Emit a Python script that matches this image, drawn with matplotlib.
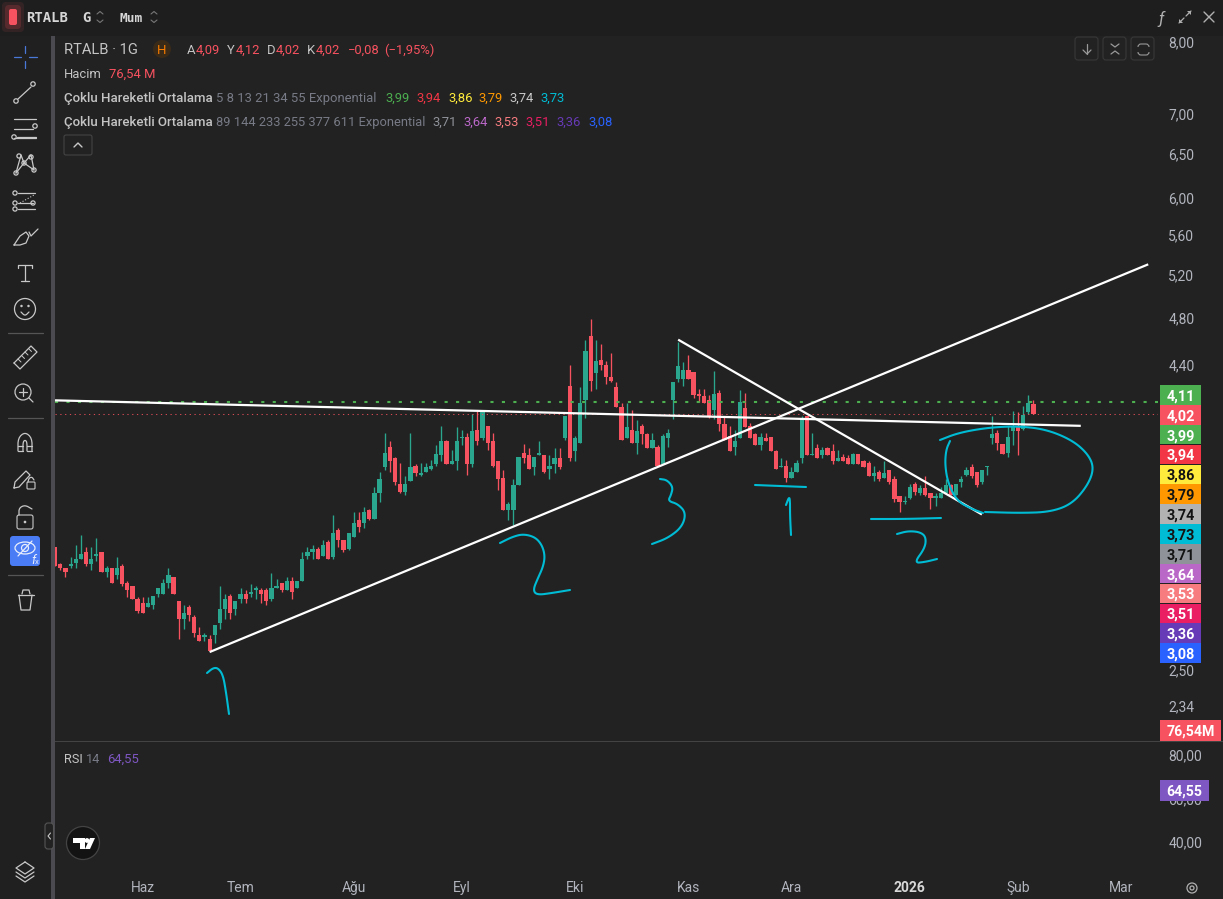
import numpy as np
import matplotlib
matplotlib.use("Agg")
import matplotlib.pyplot as plt
from matplotlib.patches import Rectangle, FancyBboxPatch, Circle, Polygon, Ellipse
from matplotlib.ticker import FixedLocator, FuncFormatter, NullLocator

plt.rcParams['font.family'] = ['Roboto', 'DejaVu Sans']

# ---- daily candles ----
opens = [3.14,3.04,3.02,3.03,3.05,3.07,3.11,3.04,3.09,3.11,3.00,3.02,2.98,3.03,2.94,2.92,2.85,2.83,2.81,2.82,2.88,2.88,2.94,2.97,2.84,2.75,2.81,2.76,2.67,2.66,2.65,2.67,2.73,2.80,2.87,2.80,2.85,2.88,2.88,2.90,2.90,2.90,2.85,2.91,2.94,2.90,2.95,2.91,2.95,3.09,3.11,3.13,3.09,3.17,3.08,3.24,3.18,3.13,3.20,
         3.30,3.28,3.36,3.31,3.47,3.64,3.78,3.70,3.53,3.48,3.55,3.65,3.59,3.61,3.63,3.66,3.72,3.82,3.66,3.68,3.84,3.85,3.66,3.90,3.84,3.93,3.82,3.68,3.57,3.36,3.36,3.52,3.74,3.72,3.64,3.72,3.72,3.63,3.66,3.70,3.84,
         4.23,3.75,3.81,4.12,4.64,4.33,4.44,4.40,4.30,4.22,4.07,3.84,3.90,3.81,3.93,3.87,3.77,3.78,3.66,3.84,4.12,4.29,4.29,4.36,4.34,4.17,4.15,4.12,4.05,4.18,3.94,3.86,3.78,3.84,4.06,3.93,3.87,3.79,3.84,3.85,3.75,3.64,3.65,3.57,3.61,3.70,4.00,3.72,
         3.77,3.72,3.77,3.75,3.68,3.71,3.70,3.66,3.73,3.68,3.67,3.58,3.61,3.57,3.62,3.56,3.45,3.41,3.44,3.53,3.47,3.50,3.47,3.44,3.44,3.47,3.52,3.46,3.54,3.59,3.64,3.61,3.54,3.64,3.84,3.88,3.80,3.74,3.89,3.92,3.91,4.03,4.09]
highs = [3.14,3.05,3.02,3.08,3.15,3.21,3.14,3.14,3.19,3.11,3.03,3.02,3.08,3.04,2.95,2.92,2.86,2.86,2.86,2.87,2.91,2.96,3.02,2.97,2.84,2.82,2.82,2.77,2.71,2.68,2.67,2.72,2.92,2.88,2.88,2.84,2.91,2.90,2.93,2.92,2.91,2.91,2.99,2.96,2.94,2.97,2.97,2.95,3.11,3.14,3.15,3.14,3.18,3.18,3.33,3.25,3.18,3.22,3.35,
         3.35,3.38,3.37,3.51,3.61,3.88,3.82,3.71,3.67,3.58,3.88,3.66,3.67,3.67,3.69,3.79,3.93,3.83,3.76,3.92,3.90,3.88,4.02,4.04,4.03,3.93,3.88,3.68,3.62,3.41,3.56,3.71,3.80,3.77,3.71,3.82,3.72,3.72,3.77,3.77,4.00,
         4.40,3.86,4.22,4.61,4.79,4.61,4.57,4.43,4.50,4.26,4.10,4.10,4.05,3.97,3.94,3.88,3.88,3.79,3.87,3.91,4.26,4.59,4.42,4.48,4.34,4.21,4.21,4.16,4.35,4.20,4.00,3.93,3.90,4.20,4.18,3.95,3.88,3.88,3.88,3.85,3.76,3.70,3.69,3.64,3.69,4.00,4.00,3.88,
         3.80,3.78,3.78,3.80,3.76,3.73,3.72,3.74,3.73,3.69,3.68,3.65,3.62,3.68,3.62,3.58,3.45,3.45,3.53,3.54,3.52,3.58,3.47,3.47,3.51,3.56,3.53,3.53,3.58,3.64,3.66,3.61,3.62,3.65,4.00,3.90,3.80,3.93,4.04,4.03,4.08,4.16,4.12]
lows = [3.03,3.01,2.97,3.02,3.02,3.07,3.03,3.01,3.06,3.00,2.97,2.94,2.96,2.92,2.86,2.85,2.78,2.78,2.81,2.80,2.86,2.88,2.91,2.88,2.65,2.70,2.74,2.66,2.64,2.64,2.59,2.63,2.70,2.75,2.75,2.77,2.83,2.83,2.86,2.85,2.83,2.82,2.84,2.91,2.89,2.90,2.85,2.91,2.95,3.07,3.07,3.07,3.09,3.07,3.07,3.14,3.11,3.12,3.20,
        3.23,3.25,3.30,3.31,3.41,3.62,3.61,3.52,3.47,3.46,3.55,3.58,3.58,3.61,3.62,3.65,3.68,3.66,3.66,3.62,3.79,3.59,3.64,3.79,3.83,3.76,3.64,3.49,3.36,3.30,3.27,3.52,3.67,3.63,3.59,3.72,3.60,3.56,3.60,3.63,3.83,
        3.68,3.68,3.81,3.99,4.19,4.21,4.36,4.25,4.26,4.07,3.83,3.84,3.81,3.73,3.80,3.77,3.77,3.65,3.66,3.78,3.98,4.26,4.23,4.29,4.14,4.11,4.10,3.99,3.98,3.89,3.83,3.75,3.72,3.84,3.92,3.84,3.79,3.76,3.82,3.75,3.63,3.64,3.54,3.57,3.61,3.67,3.72,3.72,
        3.70,3.70,3.72,3.66,3.68,3.68,3.66,3.66,3.66,3.64,3.58,3.55,3.55,3.57,3.53,3.41,3.35,3.40,3.43,3.46,3.46,3.45,3.37,3.39,3.44,3.47,3.46,3.46,3.51,3.58,3.57,3.51,3.53,3.59,3.80,3.76,3.73,3.71,3.79,3.72,3.90,4.02,4.02]
closes = [3.03,3.02,3.00,3.04,3.07,3.10,3.04,3.07,3.10,3.00,3.02,2.94,3.02,2.93,2.90,2.85,2.79,2.78,2.83,2.87,2.91,2.94,2.98,2.88,2.75,2.78,2.77,2.68,2.64,2.67,2.59,2.72,2.80,2.85,2.78,2.84,2.88,2.85,2.89,2.91,2.88,2.84,2.91,2.92,2.90,2.95,2.89,2.95,3.07,3.11,3.13,3.07,3.15,3.07,3.22,3.18,3.12,3.22,3.28,
          3.26,3.35,3.31,3.47,3.56,3.74,3.68,3.54,3.48,3.53,3.64,3.60,3.60,3.64,3.65,3.73,3.82,3.66,3.68,3.82,3.85,3.66,3.89,3.82,4.03,3.81,3.65,3.56,3.36,3.40,3.52,3.71,3.70,3.63,3.71,3.74,3.61,3.65,3.70,3.64,4.00,
          3.70,3.84,4.10,4.51,4.27,4.43,4.40,4.30,4.27,4.07,3.83,3.92,3.81,3.89,3.87,3.77,3.83,3.65,3.86,3.88,4.26,4.39,4.36,4.29,4.16,4.15,4.10,4.00,4.17,3.94,3.83,3.75,3.82,4.11,3.92,3.84,3.79,3.85,3.82,3.75,3.63,3.65,3.57,3.61,3.67,3.99,3.72,3.73,
          3.70,3.76,3.72,3.68,3.70,3.68,3.66,3.73,3.66,3.64,3.58,3.60,3.56,3.60,3.54,3.43,3.41,3.42,3.51,3.48,3.50,3.46,3.44,3.45,3.47,3.52,3.46,3.53,3.56,3.62,3.58,3.52,3.62,3.65,3.87,3.81,3.73,3.85,3.92,3.89,4.01,4.10,4.02]

# ---- axis content ----
price_ticks = [8.00, 7.00, 6.50, 6.00, 5.60, 5.20, 4.80, 4.40, 2.50, 2.34]
rsi_ticks = [80.00, 60.00, 40.00]
month_bars = [17, 36, 58, 79, 101, 123, 143, 166, 187, 207]
month_labels = ['Haz', 'Tem', 'Ağu', 'Eyl', 'Eki', 'Kas', 'Ara', '2026', 'Şub', 'Mar']

# ---- user-drawn trend lines (bar number, price) ----
rising_bars, rising_prices = [30, 212.3], [2.585, 5.30]
flat_bars, flat_prices = [-0.03, 199.2], [4.12, 3.93]
falling_bars, falling_prices = [121, 180], [4.61, 3.335]

# ---- price-scale tags ----
last_high, last_close = 4.11, 4.02
tags = [('4,11', '#4caf50', 'w'), ('4,02', '#f7525f', 'w'), ('3,99', '#4caf50', 'w'), ('3,94', '#f23645', 'w'),
        ('3,86', '#ffeb3b', 'k'), ('3,79', '#ff9800', 'k'), ('3,74', '#b2b2b2', 'k'), ('3,73', '#00bcd4', 'k'),
        ('3,71', '#8f9299', 'k'), ('3,64', '#ba68c8', 'w'), ('3,53', '#f77c80', 'w'), ('3,51', '#e91e63', 'w'),
        ('3,36', '#673ab7', 'w'), ('3,08', '#2962ff', 'w')]

BG, PANEL, SEP, TXT = '#222222', '#1e1e1e', '#4a4a50', '#b2b5be'
UP, DOWN = '#2aa68f', '#f7525f'
W, H = 1223, 899

fig = plt.figure(figsize=(W / 100, H / 100), dpi=100, facecolor=PANEL)
fig.add_artist(Rectangle((55 / W, 0), 1 - 55 / W, 1 - 36 / H, transform=fig.transFigure, fc=BG, ec='none', zorder=-1))
fig.add_artist(Rectangle((0, 0), 51 / W, 1 - 36 / H, transform=fig.transFigure, fc='#202020', ec='none', zorder=-1))
def axpx(l, t, r, b, **k):
    return fig.add_axes([l / W, 1 - b / H, (r - l) / W, (b - t) / H], **k)

# ---- chart pane ----
ax = axpx(55, 36, 1158, 741, facecolor=BG)
ax.set_yscale('log')
ax.set_ylim(8 * np.exp(-699 / 540), 8 * np.exp(6 / 540))
ax.set_xlim(-0.035, 214.2)
for s in ax.spines.values():
    s.set_visible(False)
ax.yaxis.tick_right()
ax.yaxis.set_major_locator(FixedLocator(price_ticks))
ax.yaxis.set_minor_locator(NullLocator())
comma = FuncFormatter(lambda v, _: f'{v:.2f}'.replace('.', ','))
ax.yaxis.set_major_formatter(comma)
ax.tick_params(axis='y', which='both', length=0, pad=7.5, labelcolor=TXT, labelsize=10)
ax.tick_params(axis='x', length=0, labelbottom=False)
ax.set_xticks(month_bars)

bars = np.arange(len(opens))
o, h, l, c = map(np.array, (opens, highs, lows, closes))
cols = np.where(c >= o, UP, DOWN)
ax.vlines(bars, l, h, colors=cols, linewidth=0.95, zorder=2)
ax.bar(bars, np.maximum(np.abs(c - o), 0.008), bottom=np.minimum(o, c), width=0.82, color=cols, linewidth=0,
       zorder=3, antialiased=False)

ax.axhline(last_high, color='#4caf50', lw=1.5, dashes=(1.5, 4), zorder=4)
ax.axhline(last_close, color='#f7525f', lw=0.75, dashes=(1.2, 3.4), alpha=0.85, zorder=4)
for xs, ys in ((rising_bars, rising_prices), (flat_bars, flat_prices), (falling_bars, falling_prices)):
    ax.plot(xs, ys, color='white', lw=1.6, zorder=5, solid_capstyle='butt')

# ---- RSI pane ----
rs = axpx(55, 741, 1158, 877, facecolor=BG)
rs.set_xlim(ax.get_xlim())
rs.set_ylim(40 - 35 / 2.175, 80 + 14 / 2.175)
for k, s in rs.spines.items():
    s.set_visible(False)
rs.yaxis.tick_right()
rs.set_yticks(rsi_ticks)
rs.yaxis.set_major_formatter(comma)
rs.tick_params(axis='y', length=0, pad=7.5, labelcolor=TXT, labelsize=10)
rs.set_xticks(month_bars)
rs.set_xticklabels(month_labels)
rs.tick_params(axis='x', length=0, pad=3, labelcolor=TXT, labelsize=10)
rs.get_xticklabels()[7].set_fontweight('bold')
rs.get_xticklabels()[7].set_color('#d8d8d8')

# ---- overlay in pixel coordinates: screen furniture and hand strokes ----
ov = fig.add_axes([0, 0, 1, 1], zorder=10)
ov.set_xlim(0, W)
ov.set_ylim(H, 0)
ov.axis('off')
ov.patch.set_alpha(0)

def T(x, y, s, color=TXT, size=9.4, weight='normal', ha='left', **kw):
    return ov.text(x, y, s, color=color, fontsize=size, fontweight=weight, ha=ha, va='center_baseline', **kw)
def L(pts, color='#c8c8c8', lw=0.9, **kw):
    pts = np.array(pts, float)
    ov.plot(pts[:, 0], pts[:, 1], color=color, lw=lw, solid_capstyle='round', solid_joinstyle='round', **kw)
def C(x, y, r, ec='#c8c8c8', fc='none', lw=0.9):
    ov.add_patch(Ellipse((x, y), 2 * r, 2 * r, ec=ec, fc=fc, lw=lw))
def RR(x0, y0, x1, y1, r=3, ec='none', fc='none', lw=0.8):
    ov.add_patch(FancyBboxPatch((x0 + r, y0 + r), x1 - x0 - 2 * r, y1 - y0 - 2 * r,
                                boxstyle=f'round,pad={r},rounding_size={r}', ec=ec, fc=fc, lw=lw))
def smooth(pts, n=3):
    p = np.array(pts, float)
    for _ in range(n):
        q = np.empty((2 * len(p), 2))
        q[0::2] = 0.75 * p + 0.25 * np.roll(p, -1, axis=0)
        q[1::2] = 0.25 * p + 0.75 * np.roll(p, -1, axis=0)
        p = np.vstack([p[0], q[:-2], p[-1]])
    return p

# separators
ov.add_patch(Rectangle((51, 36), 3.5, H - 36, fc=SEP, ec='none'))
ov.add_patch(Rectangle((55, 741), 1168, 1, fc='#434343', ec='none'))

# top bar
for a, g in ((0.10, 7), (0.18, 4)):
    RR(9 - g, 9 - g, 17 + g, 25 + g, r=4, fc=(0.97, 0.32, 0.37, a))
RR(9, 9, 17, 25, r=2, fc='#f7525f')
T(26, 17, 'RTALB', '#d6d6d6', 10, 'bold', family=['DejaVu Sans Mono'])
T(82, 17, 'G', '#d6d6d6', 10, 'bold', family=['DejaVu Sans Mono'])
T(120, 17, 'Mum', '#d6d6d6', 9.3, 'bold', family=['DejaVu Sans Mono'])
for x in (100, 154):
    L([(x - 3, 14), (x, 11.5), (x + 3, 14)], '#777777', 0.8)
    L([(x - 3, 20), (x, 22.5), (x + 3, 20)], '#777777', 0.8)
T(1161, 17, 'ƒ', '#b0b0b0', 12, ha='center', style='italic')
L([(1179, 23), (1184, 18)], '#b0b0b0')
L([(1186, 16), (1191, 11)], '#b0b0b0')
ov.add_patch(Polygon([(1179, 23), (1179, 19), (1183, 23)], fc='#b0b0b0', ec='none'))
ov.add_patch(Polygon([(1191, 11), (1191, 15), (1187, 11)], fc='#b0b0b0', ec='none'))
L([(1204, 12), (1214, 22)], '#b0b0b0', 1.0)
L([(1214, 12), (1204, 22)], '#b0b0b0', 1.0)

# chart buttons
for x0 in (1075, 1103, 1131):
    RR(x0, 37, x0 + 23, 60, r=3, ec='#383838', fc=BG)
L([(1087, 44), (1087, 54)], '#999999')
L([(1083, 50), (1087, 54), (1091, 50)], '#999999')
L([(1111, 44), (1115, 47), (1119, 44)], '#999999')
L([(1111, 54), (1115, 51), (1119, 54)], '#999999')
RR(1138, 44, 1149, 55, r=3, ec='#999999')
ov.add_patch(Rectangle((1136, 47), 15, 5, fc=BG, ec='none'))

# legend rows
T(64, 49, 'RTALB · 1G', '#c4c4c4', 10.6)
C(162, 49, 9, ec='none', fc='#3a2a18')
T(162, 49, 'H', '#f57c00', 9.5, ha='center')
for x, s, col in ((187, 'A', '#c4c4c4'), (196, '4,09', DOWN), (227, 'Y', '#c4c4c4'), (236, '4,12', DOWN),
                  (267, 'D', '#c4c4c4'), (276, '4,02', DOWN), (307, 'K', '#c4c4c4'), (316, '4,02', DOWN),
                  (348, '−0,08', DOWN), (384, '(−1,95%)', DOWN)):
    T(x, 49, s, col, 9.4)
T(64, 73, 'Hacim', '#c4c4c4', 9.4)
T(109, 73, '76,54 M', DOWN, 9.4)
T(64, 97, 'Çoklu Hareketli Ortalama', '#c4c4c4', 9.5, 'medium')
T(64, 121, 'Çoklu Hareketli Ortalama', '#c4c4c4', 9.5, 'medium')
T(216, 97, '5 8 13 21 34 55 Exponential', '#787b86', 9.4)
T(216, 121, '89 144 233 255 377 611 Exponential', '#787b86', 9.3)
for x, s, col in ((385, '3,99', '#4caf50'), (416, '3,94', '#f23645'), (448, '3,86', '#ffeb3b'),
                  (478, '3,79', '#ff9800'), (509, '3,74', '#c8c8c8'), (540, '3,73', '#00bcd4')):
    T(x, 97, s, col, 9.4)
for x, s, col in ((432, '3,71', '#8f9299'), (463, '3,64', '#ba68c8'), (494, '3,53', '#f77c80'),
                  (525, '3,51', '#e91e63'), (556, '3,36', '#673ab7'), (588, '3,08', '#2962ff')):
    T(x, 121, s, col, 9.4)
RR(64, 135, 92, 155, r=2, ec='#444444')
L([(74, 147), (78, 143), (82, 147)], '#c8c8c8', 1.0)
T(64, 758, 'RSI', '#c4c4c4', 9.2)
T(86, 758, '14', '#787b86', 9.2)
T(107, 758, '64,55', '#7e57c2', 9.4)

# price-scale tags
for i, (s, fc, tc) in enumerate(tags):
    yc = 395 + i * (653 - 395) / (len(tags) - 1)
    ov.add_patch(Rectangle((1160, yc - 9.8), 41, 19.6, fc=fc, ec='none'))
    T(1180.5, yc, s, 'white' if tc == 'w' else '#131313', 10.4, 'bold', ha='center')
ov.add_patch(Rectangle((1160, 720), 61, 21, fc=DOWN, ec='none'))
T(1190.5, 730.5, '76,54M', 'white', 10.2, 'bold', ha='center')
ov.add_patch(Rectangle((1160, 780), 49, 21, fc='#7e57c2', ec='none'))
T(1184.5, 790.5, '64,55', 'white', 10.2, 'bold', ha='center')

# hand-drawn strokes
CY = '#00bcd4'
strokes = [
    [(207, 673), (213, 668), (218, 668), (223, 675), (226, 692), (229, 714)],
    [(500, 543), (512, 537), (523, 534), (535, 537), (542, 545), (545, 556), (543, 567), (538, 578), (533, 590), (537, 595), (552, 593), (570, 590)],
    [(660, 479), (667, 480), (673, 487), (671, 495), (668, 501), (678, 504), (686, 513), (682, 527), (668, 538), (652, 544)],
    [(755, 485), (780, 486), (806, 487)],
    [(786, 505), (789, 497), (790, 500), (790, 515), (791, 535)],
    [(871, 519), (905, 519), (941, 518)],
    [(897, 534), (908, 531), (920, 532), (926, 537), (925, 548), (914, 563), (925, 562), (937, 559)],
    [(940, 440), (958, 433), (985, 428), (1015, 426), (1045, 429), (1072, 440), (1088, 454), (1094, 468), (1088, 485), (1072, 504), (1050, 512), (1020, 513), (985, 512)],
    [(950, 441), (946, 450), (945, 465), (948, 483), (957, 501), (972, 509), (983, 513)],
]
for s in strokes:
    p = smooth(s)
    ov.plot(p[:, 0], p[:, 1], color=CY, lw=1.5, solid_capstyle='round', solid_joinstyle='round')

# left toolbar
B = '#4a78d8'
L([(25, 46), (25, 53)], B); L([(25, 61), (25, 68)], B); L([(14, 57), (21, 57)], B); L([(29, 57), (37, 57)], B)
L([(18, 99), (31, 87)]); C(16, 101, 2.2); C(33, 84, 2.2)
for y, x1 in ((119, 36), (129, 33), (138, 36)):
    L([(14, y), (x1, y)])
L([(17, 137), (36, 137)])
C(35, 126, 2.2); C(14, 137, 2.2)
L([(16, 173), (21, 155), (24, 163), (31, 155), (34, 170)]); L([(16, 173), (24, 163), (34, 170)])
for x, y in ((16, 173), (19, 156), (24, 163), (31, 157), (34, 170)):
    C(x, y, 2.1)
L([(18, 193), (35, 193)]); L([(18, 209), (35, 209)]); L([(18, 203), (33, 203)])
L([(20, 203), (34, 195)], lw=0.8, ls=':')
for x, y in ((15, 193), (15, 203), (33, 203), (15, 209)):
    C(x, y, 2.1)
L([(14, 245), (20, 236), (26, 232), (29, 236), (26, 243), (20, 245), (14, 245)])
L([(29, 232), (31, 236), (38, 229)])
L([(18, 265), (32, 265)]); L([(25, 265), (25, 281)]); L([(21, 281), (29, 281)]); L([(18, 265), (18, 268)]); L([(32, 265), (32, 268)])
C(25, 309, 10.5); C(21.5, 306, 0.6, fc='#c8c8c8'); C(28.5, 306, 0.6, fc='#c8c8c8')
L(smooth([(21, 312), (25, 316), (29, 312)], 2))
L([(8, 333), (43, 333)], '#555555'); L([(8, 418), (43, 418)], '#555555'); L([(8, 575), (43, 575)], '#555555')
L([(14, 363), (31, 346), (37, 352), (20, 369), (14, 363)])
for k in range(4):
    L([(18 + 3.5 * k, 359 - 3.5 * k), (21 + 3.5 * k, 362 - 3.5 * k)], lw=0.7)
C(23, 392, 8); L([(29, 398), (33, 402)]); L([(19, 392), (27, 392)]); L([(23, 388), (23, 396)])
L(smooth([(18, 451), (18, 438), (25, 432), (32, 438), (32, 451)], 2))
L(smooth([(23, 451), (23, 442), (25, 440), (27, 442), (27, 451)], 2))
L([(18, 451), (23, 451)]); L([(27, 451), (32, 451)]); L([(18, 446), (23, 446)]); L([(27, 446), (32, 446)])
L([(14, 488), (15, 482), (26, 471), (30, 475), (19, 487), (14, 488)])
RR(27, 482, 35, 489, r=1, ec='#c8c8c8'); L(smooth([(28, 482), (29, 478), (32, 477), (34, 480)], 2))
RR(17, 515, 33, 529, r=2, ec='#c8c8c8'); L(smooth([(19, 515), (19, 508), (25, 505), (32, 509)], 2))
C(25, 522, 0.7, fc='#c8c8c8')
RR(10, 536, 40, 566, r=3, fc='#4a7cf6')
ov.add_patch(Ellipse((25, 548), 20, 12, ec='#e8eefc', fc='none', lw=0.9))
C(25, 548, 3.5, ec='#e8eefc'); L([(18, 556), (32, 541)], '#e8eefc')
T(31, 559, 'f', '#e8eefc', 9, style='italic'); T(35, 561, 'x', '#e8eefc', 5.5)
L([(18, 595), (34, 595)]); L([(22, 594), (23, 590), (29, 590), (30, 594)])
L([(19, 595), (21, 610), (30, 610), (32, 595)])
for dy in (0, 4, 8):
    L([(25, 862 + dy), (16, 868 + dy), (25, 874 + dy), (34, 868 + dy), (25, 862 + dy)] if dy == 0 else
      [(16, 868 + dy), (25, 874 + dy), (34, 868 + dy)])

# bottom furniture
RR(45, 823, 53.5, 849, r=3, ec='#555555', fc=BG)
L([(50.5, 833), (48, 836), (50.5, 839)], '#c8c8c8', 0.8)
ov.add_patch(Ellipse((83, 843), 33, 33, ec='#444444', fc='#131313', lw=0.9))
ov.add_patch(Polygon([(73, 838), (85, 838), (85, 849), (80, 849), (80, 843), (73, 843)], fc='white', ec='none'))
ov.add_patch(Polygon([(90, 838), (95, 838), (90, 849), (85, 849)], fc='white', ec='none'))
C(87, 840.5, 2.4, ec='none', fc='white')
C(1192, 888, 5, ec='#b0b0b0'); C(1192, 888, 2, ec='#b0b0b0')

fig.savefig('out.png', dpi=100, facecolor=PANEL)
